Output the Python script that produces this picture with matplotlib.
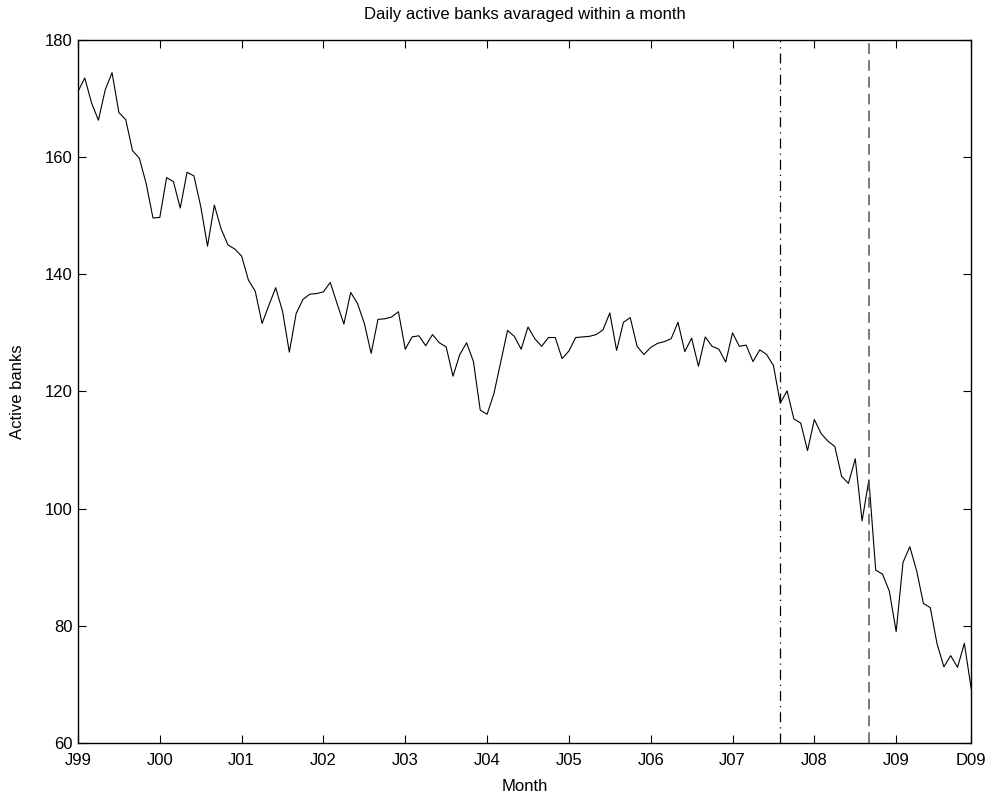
import numpy as np
import matplotlib
matplotlib.use("Agg")
import matplotlib.pyplot as plt

plt.rcParams["font.family"] = ["Liberation Sans", "DejaVu Sans"]

# monthly average of daily active banks, Jan 1999 .. Dec 2009
active_banks = [
    171.2, 173.5, 169.2, 166.3, 171.5, 174.4, 167.6, 166.4, 161.1, 159.8, 155.5, 149.6,
    149.7, 156.5, 155.8, 151.3, 157.4, 156.8, 151.6, 144.8, 151.8, 147.7, 145.0, 144.3,
    143.1, 139.0, 137.1, 131.6, 134.7, 137.7, 133.7, 126.7, 133.3, 135.7, 136.6, 136.7,
    137.0, 138.6, 135.0, 131.5, 136.9, 135.0, 131.6, 126.5, 132.3, 132.4, 132.7, 133.6,
    127.2, 129.3, 129.5, 127.8, 129.7, 128.3, 127.6, 122.6, 126.3, 128.3, 125.1, 116.8,
    116.1, 119.6, 125.0, 130.4, 129.4, 127.2, 131.0, 129.0, 127.7, 129.2, 129.2, 125.6,
    126.9, 129.2, 129.3, 129.4, 129.7, 130.5, 133.4, 127.0, 131.8, 132.6, 127.7, 126.3,
    127.5, 128.2, 128.5, 129.0, 131.8, 126.8, 129.1, 124.3, 129.3, 127.7, 127.2, 125.0,
    130.0, 127.7, 127.9, 125.1, 127.1, 126.3, 124.4, 118.0, 120.1, 115.3, 114.6, 109.9,
    115.2, 112.8, 111.5, 110.6, 105.5, 104.3, 108.5, 97.9, 104.9, 89.5, 88.8, 85.9,
    79.0, 90.8, 93.5, 89.4, 83.8, 83.1, 76.9, 73.0, 74.9, 72.9, 77.0, 69.3,
]
month_ticks = [0, 12, 24, 36, 48, 60, 72, 84, 96, 108, 120, 131]
month_labels = ["J99", "J00", "J01", "J02", "J03", "J04", "J05", "J06", "J07", "J08", "J09", "D09"]
event_aug07 = 103   # dash-dot marker
event_sep08 = 116   # dashed marker

months = np.arange(len(active_banks))

fig = plt.figure(figsize=(9.92, 7.98), dpi=100)
ax = fig.add_axes([0.0786, 0.069, 0.9004, 0.881])

ax.plot(months, active_banks, color="black", lw=0.8)
ax.axvline(event_aug07, color="black", lw=0.9, ls=(0, (8, 4, 1, 4)))
ax.axvline(event_sep08, color="#555555", lw=1.1, ls=(0, (7, 4)))

ax.set_xlim(0, len(active_banks) - 1)
ax.set_ylim(60, 180)
ax.set_xticks(month_ticks)
ax.set_xticklabels(month_labels)
ax.set_yticks(np.arange(60, 181, 20))
ax.tick_params(direction="in", top=True, right=True, length=6, width=0.8,
               labelsize=12)
ax.tick_params(axis="x", pad=7)
ax.tick_params(axis="y", pad=4)
for s in ax.spines.values():
    s.set_linewidth(1.0)

ax.set_title("Daily active banks avaraged within a month", fontsize=12, pad=15)
ax.set_xlabel("Month", fontsize=12)
ax.xaxis.set_label_coords(0.5, -0.052)
ax.set_ylabel("Active banks", fontsize=12, labelpad=14)

fig.savefig("out.png", dpi=100)
